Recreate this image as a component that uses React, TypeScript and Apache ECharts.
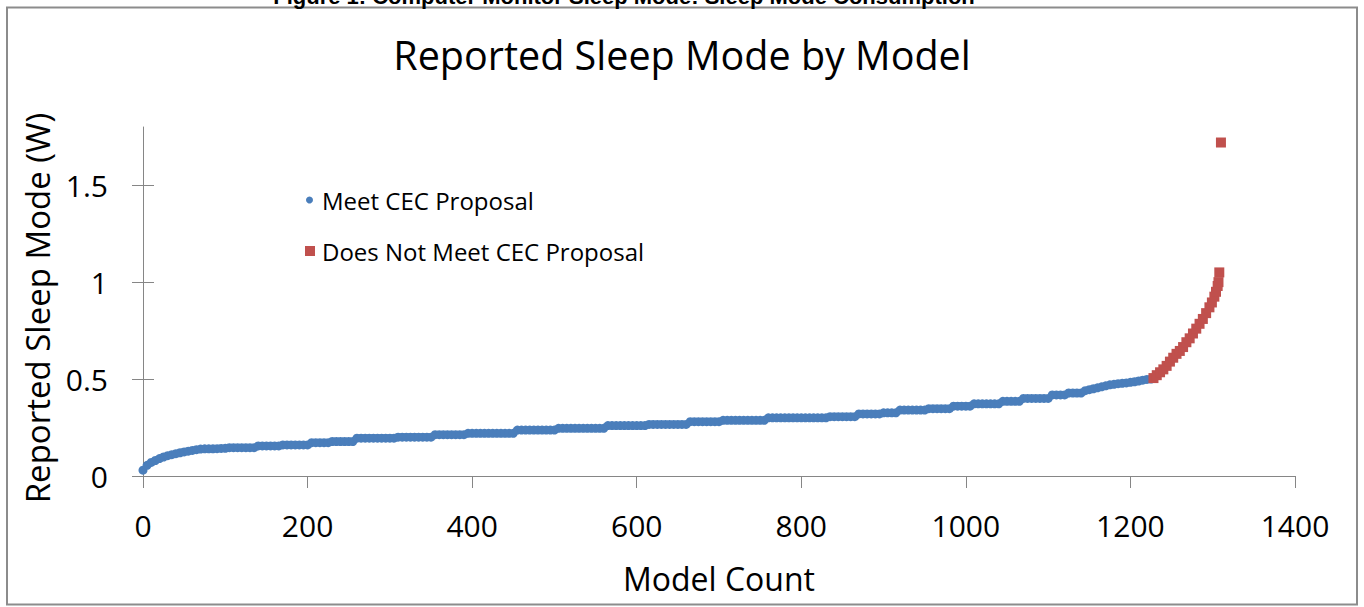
import React, { useEffect, useRef } from "react";
import * as echarts from "echarts";

const PAGE_HEADING = "Figure 1: Computer Monitor Sleep Mode: Sleep Mode Consumption";
const TITLE = "Reported Sleep Mode by Model";
const X_NAME = "Model Count";
const Y_NAME = "Reported Sleep Mode (W)";
const SERIES_NAMES = ["Meet CEC Proposal", "Does Not Meet CEC Proposal"];
const Y_TICKS = [0, 0.5, 1, 1.5];
const X_MIN = 0;
const X_MAX = 1400;
const X_INTERVAL = 200;
const Y_MAX = 1.8;

// "Meet CEC Proposal": sleep power read every 5 model counts (0, 5, 10, ... 1225)
const MEET_STEP = 5;
const meetValues = [
  0.03, 0.055, 0.07, 0.08, 0.09, 0.098, 0.105, 0.11, 0.115, 0.12,
  0.124, 0.128, 0.132, 0.136, 0.139, 0.14, 0.14, 0.14, 0.141, 0.142,
  0.143, 0.146, 0.146, 0.146, 0.146, 0.146, 0.146, 0.146,
  0.155, 0.155, 0.155, 0.155, 0.155, 0.155,
  0.16, 0.16, 0.16, 0.16, 0.16, 0.16, 0.16,
  0.172, 0.172, 0.172, 0.172, 0.172,
  0.178, 0.178, 0.178, 0.178, 0.178, 0.178,
  0.195, 0.195, 0.195, 0.195, 0.195, 0.195, 0.195, 0.195, 0.195, 0.195,
  0.2, 0.2, 0.2, 0.2, 0.2, 0.2, 0.2, 0.2, 0.2,
  0.213, 0.213, 0.213, 0.213, 0.213, 0.213, 0.213, 0.213,
  0.22, 0.22, 0.22, 0.22, 0.22, 0.22, 0.22, 0.22, 0.22, 0.22, 0.22, 0.22,
  0.237, 0.237, 0.237, 0.237, 0.237, 0.237, 0.237, 0.237, 0.237, 0.237,
  0.246, 0.246, 0.246, 0.246, 0.246, 0.246, 0.246, 0.246, 0.246, 0.246, 0.246, 0.246,
  0.26, 0.26, 0.26, 0.26, 0.26, 0.26, 0.26, 0.26, 0.26, 0.26,
  0.266, 0.266, 0.266, 0.266, 0.266, 0.266, 0.266, 0.266, 0.266, 0.266,
  0.28, 0.28, 0.28, 0.28, 0.28, 0.28, 0.28, 0.28,
  0.287, 0.287, 0.287, 0.287, 0.287, 0.287, 0.287, 0.287, 0.287, 0.287, 0.287,
  0.3, 0.3, 0.3, 0.3, 0.3, 0.3, 0.3, 0.3, 0.3, 0.3, 0.3, 0.3, 0.3, 0.3, 0.3,
  0.306, 0.306, 0.306, 0.306, 0.306, 0.306, 0.306,
  0.32, 0.32, 0.32, 0.32, 0.32, 0.32,
  0.326, 0.326, 0.326, 0.326,
  0.34, 0.34, 0.34, 0.34, 0.34, 0.34, 0.34,
  0.347, 0.347, 0.347, 0.347, 0.347, 0.347,
  0.36, 0.36, 0.36, 0.36, 0.36,
  0.372, 0.372, 0.372, 0.372, 0.372, 0.372, 0.372,
  0.385, 0.385, 0.385, 0.385, 0.385,
  0.4, 0.4, 0.4, 0.4, 0.4, 0.4, 0.4,
  0.418, 0.418, 0.418, 0.418,
  0.428, 0.428, 0.428, 0.428,
  0.44, 0.445, 0.45, 0.455,
  0.46, 0.465, 0.47, 0.473,
  0.476, 0.478, 0.48, 0.483,
  0.486, 0.49, 0.494, 0.498, 0.5,
];

// "Does Not Meet CEC Proposal"
const notMeetCounts = [
  1228, 1232, 1236, 1240, 1244, 1248, 1252, 1256, 1260, 1264, 1268, 1272,
  1276, 1280, 1284, 1288, 1292, 1296, 1299, 1302, 1304, 1306, 1307, 1308, 1310,
];
const notMeetValues = [
  0.505, 0.52, 0.535, 0.55, 0.568, 0.59, 0.61, 0.63, 0.645, 0.665, 0.69, 0.71,
  0.735, 0.76, 0.785, 0.81, 0.84, 0.87, 0.895, 0.925, 0.95, 0.98, 1.0, 1.05, 1.72,
];

const BLUE = "#4a7ebb";
const RED = "#c0504d";
const AXIS_GRAY = "#868686";
const FONT = '"Open Sans", "Noto Sans", sans-serif';

export default function App() {
  const ref = useRef<HTMLDivElement>(null);

  useEffect(() => {
    if (!ref.current) return;
    const chart = echarts.init(ref.current, undefined, { renderer: "svg" });

    const meetData = meetValues.map((v, i) => [i * MEET_STEP, v]);
    const notMeetData = notMeetCounts.map((c, i) => [c, notMeetValues[i]]);

    const legendText = { fontFamily: FONT, fontSize: 24, color: "#000" };

    chart.setOption({
      animation: false,
      backgroundColor: "#ffffff",
      textStyle: { fontFamily: FONT },
      title: {
        text: TITLE,
        left: "center",
        top: 30,
        textStyle: { fontFamily: FONT, fontSize: 39.5, fontWeight: "normal", color: "#000" },
      },
      legend: [
        {
          data: [{ name: SERIES_NAMES[0], icon: "circle" }],
          left: 306,
          top: 188,
          padding: 0,
          itemWidth: 7,
          itemHeight: 7,
          selectedMode: false,
          textStyle: { ...legendText, padding: [0, 0, 0, 4] },
        },
        {
          data: [{ name: SERIES_NAMES[1], icon: "rect" }],
          left: 305,
          top: 239,
          padding: 0,
          itemWidth: 10,
          itemHeight: 10,
          selectedMode: false,
          textStyle: { ...legendText, padding: [0, 0, 0, 2] },
        },
      ],
      grid: { left: 143, top: 127, width: 1152, height: 349 },
      xAxis: {
        type: "value",
        min: X_MIN,
        max: X_MAX,
        interval: X_INTERVAL,
        name: X_NAME,
        nameLocation: "middle",
        nameGap: 86,
        nameTextStyle: { fontFamily: FONT, fontSize: 32, color: "#000" },
        axisLine: { show: true, lineStyle: { color: AXIS_GRAY, width: 1 } },
        axisTick: { show: true, length: 12, lineStyle: { color: AXIS_GRAY, width: 1 } },
        axisLabel: {
          fontFamily: FONT,
          fontSize: 30,
          color: "#000",
          margin: 34,
          formatter: (v: number) => String(v),
        },
        splitLine: { show: false },
      },
      yAxis: [
        {
          type: "value",
          min: 0,
          max: Y_MAX,
          interval: 0.5,
          name: Y_NAME,
          nameLocation: "middle",
          nameGap: 89,
          nameTextStyle: { fontFamily: FONT, fontSize: 33, color: "#000", padding: [0, 13, 0, 0] },
          axisLine: { show: true, lineStyle: { color: AXIS_GRAY, width: 1 } },
          axisTick: { show: true, length: 11, customValues: Y_TICKS, lineStyle: { color: AXIS_GRAY, width: 1 } },
          axisLabel: {
            fontFamily: FONT,
            fontSize: 30,
            color: "#000",
            margin: 35,
            customValues: Y_TICKS,
            formatter: (v: number) => String(v),
          },
          splitLine: { show: false },
        },
        {
          type: "value",
          min: 0,
          max: Y_MAX,
          interval: 0.5,
          position: "left",
          axisLine: { show: false },
          axisTick: { show: true, inside: true, length: 11, customValues: Y_TICKS, lineStyle: { color: AXIS_GRAY, width: 1 } },
          axisLabel: { show: false },
          splitLine: { show: false },
        },
      ],
      series: [
        {
          type: "scatter",
          name: SERIES_NAMES[0],
          data: meetData,
          symbol: "circle",
          symbolSize: 9,
          itemStyle: { color: BLUE, opacity: 1 },
          z: 2,
        },
        {
          type: "scatter",
          name: SERIES_NAMES[1],
          data: notMeetData,
          symbol: "rect",
          symbolSize: 10,
          itemStyle: { color: RED, opacity: 1 },
          z: 3,
        },
      ],
      graphic: [
        {
          type: "rect",
          silent: true,
          shape: { x: 7, y: 7.5, width: 1350, height: 597 },
          style: { fill: "none", stroke: "#8c8c8c", lineWidth: 2 },
        },
        {
          type: "text",
          silent: true,
          x: 624,
          y: 7,
          style: {
            text: PAGE_HEADING,
            fontFamily: '"Liberation Sans", Arial, sans-serif',
            fontWeight: "bold",
            fontSize: 22,
            fill: "#000",
            align: "center",
            verticalAlign: "bottom",
          },
        },
      ],
    });

    return () => chart.dispose();
  }, []);

  return (
    <div
      ref={ref}
      style={{ position: "absolute", left: 0, top: 0, width: 1364, height: 607, background: "#fff" }}
    />
  );
}
